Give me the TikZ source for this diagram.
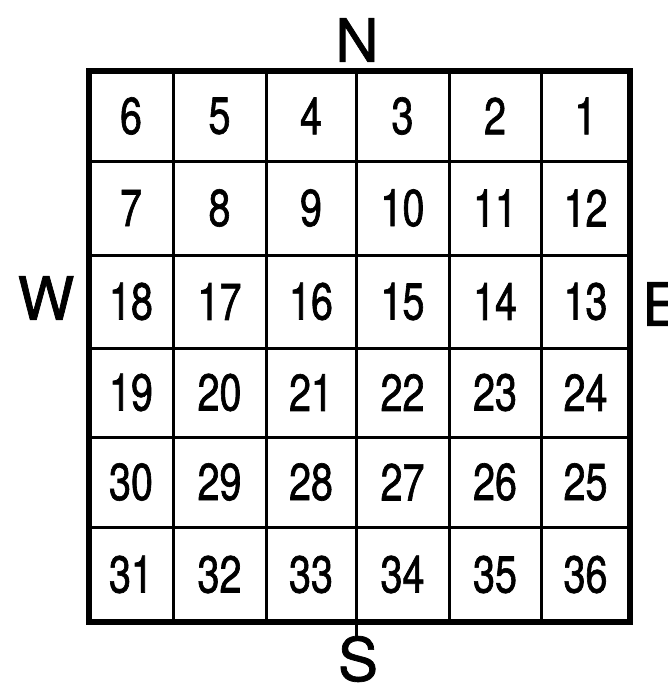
\documentclass[tikz,border=0pt]{standalone}
\usepackage{fontspec}
\newfontfamily\numfont[FakeStretch=0.76,FakeBold=1.2]{TeX Gyre Heros}
\newfontfamily\dirfont[FakeBold=1.2]{TeX Gyre Heros}
\begin{document}
\begin{tikzpicture}[x=1pt,y=-1pt,
  numstyle/.style={font=\numfont\fontsize{52}{52}\selectfont, inner sep=0pt, anchor=center},
  dirstyle/.style={font=\dirfont\fontsize{60}{60}\selectfont, inner sep=0pt, anchor=center},
  thinline/.style={line width=3pt},
  thickline/.style={line width=6pt}]
\useasboundingbox (0,0) rectangle (668,688);
\clip (0,0) rectangle (668,688);
% columns: 89,173,266,356,449,541,630 ; rows: 71,161,255,348,437,527,622
\foreach \x in {173,266,449,541} \draw[thinline] (\x,71) -- (\x,622);
\draw[thinline] (356,71) -- (356,638);
\foreach \y in {161,255,348,437,527} \draw[thinline] (89,\y) -- (630,\y);
\draw[thickline, line join=miter] (89,71) rectangle (630,622);
% numbers
\def\cols{{131,219.5,311,402.5,495,585.5}}
\def\rows{{116,208,301.5,392.5,482,574.5}}
\foreach \n [count=\i from 0] in {6,5,4,3,2,1,7,8,9,10,11,12,18,17,16,15,14,13,19,20,21,22,23,24,30,29,28,27,26,25,31,32,33,34,35,36}{
  \pgfmathtruncatemacro\c{mod(\i,6)}
  \pgfmathtruncatemacro\r{div(\i,6)}
  \pgfmathsetmacro\cx{\cols[\c]}
  \pgfmathsetmacro\cy{\rows[\r]}
  \node[numstyle] (s\n) at (\cx,\cy) {\n};
}
\node[dirstyle] (N) at (357,40) {N};
\node[dirstyle] (S) at (358,659) {S};
\node[dirstyle] (W) at (46,298) {W};
\node[dirstyle] (E) at (662,304) {E};
\end{tikzpicture}
\end{document}
